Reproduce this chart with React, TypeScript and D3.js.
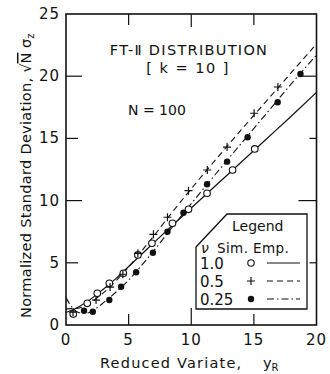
import { useEffect, useRef } from "react";
import * as d3 from "d3";

// simulated points
const simOne: [number, number][] = [
    [0.58, 0.88], [1.7, 1.74], [2.5, 2.55], [3.46, 3.35], [4.58, 4.16], [5.74, 5.63],
    [6.86, 6.57], [8.5, 8.18], [9.78, 9.3], [11.26, 10.59], [13.3, 12.46], [15.07, 14.15],
];
const simHalf: [number, number][] = [
    [0.56, 1.04], [2.4, 2.0], [3.52, 3.05], [4.54, 4.08], [5.74, 5.76], [6.98, 7.29],
    [8.1, 8.66], [9.78, 10.8], [11.28, 12.46], [12.86, 14.3], [15.02, 17.02], [16.92, 19.13],
];
const simQuarter: [number, number][] = [
    [1.44, 1.15], [2.14, 1.07], [3.46, 2.01], [4.4, 3.08], [5.6, 4.24], [6.94, 5.81],
    [8.1, 7.5], [9.38, 9.03], [11.26, 11.31], [12.86, 13.13], [14.5, 15.09], [16.9, 17.9],
    [18.72, 20.18],
];

// empirical curves
const empOne: [number, number][] = [
    [0, 1.0], [1, 1.45], [2, 2.1], [3, 2.9], [4, 3.75], [5, 4.7], [6, 5.65], [7, 6.6],
    [8, 7.55], [10, 9.4], [12, 11.25], [14, 13.1], [16, 14.95], [18, 16.8], [20, 18.7],
];
const empHalf: [number, number][] = [
    [0, 1.3], [1, 1.35], [2, 1.85], [3, 2.6], [4, 3.55], [5, 4.65], [6, 5.9], [7, 7.15],
    [8, 8.45], [10, 10.95], [12, 13.35], [14, 15.7], [16, 18.0], [18, 20.3], [20, 22.6],
];
const empQuarter: [number, number][] = [
    [0, 2.2], [0.5, 1.4], [1, 1.0], [1.5, 0.95], [2, 1.05], [2.5, 1.4], [3, 1.8], [4, 2.65],
    [5, 3.6], [6, 4.75], [7, 5.95], [8, 7.25], [10, 9.75], [12, 12.2], [14, 14.6],
    [16, 17.0], [18, 19.4], [20, 21.7],
];

const xTicks = [0, 5, 10, 15, 20];
const yTicks = [0, 5, 10, 15, 20, 25];
const legendRows = ["1.0", "0.5", "0.25"];

const FONT = "DejaVu Sans, sans-serif";
const DASH = "6,4";
const DASHDOT = "7,3,1.5,3";

const Chart = () => {
    const svgRef = useRef<SVGSVGElement>(null);
    const width = 330;
    const height = 374;

    useEffect(() => {
        if (!svgRef.current) return;
        const svg = d3.select(svgRef.current);
        svg.selectAll("*").remove();

        const x = d3.scaleLinear().domain([0, 20]).range([66, 316.5]);
        const y = d3.scaleLinear().domain([0, 25]).range([325, 14]);

        const plot = svg.append("g");

        const line = d3.line<[number, number]>()
            .x(d => x(d[0]))
            .y(d => y(d[1]))
            .curve(d3.curveMonotoneX);

        plot.append("path").datum(empOne)
            .attr("d", line).attr("fill", "none").attr("stroke", "#111").attr("stroke-width", 1.2);
        plot.append("path").datum(empHalf)
            .attr("d", line).attr("fill", "none").attr("stroke", "#111").attr("stroke-width", 1.1)
            .attr("stroke-dasharray", DASH);
        plot.append("path").datum(empQuarter)
            .attr("d", line).attr("fill", "none").attr("stroke", "#111").attr("stroke-width", 1.1)
            .attr("stroke-dasharray", DASHDOT);

        // markers
        plot.selectAll("circle.open").data(simOne).join("circle")
            .attr("class", "open")
            .attr("cx", d => x(d[0])).attr("cy", d => y(d[1])).attr("r", 3.3)
            .attr("fill", "white").attr("stroke", "#111").attr("stroke-width", 1.1);
        plot.selectAll("circle.fill").data(simQuarter).join("circle")
            .attr("class", "fill")
            .attr("cx", d => x(d[0])).attr("cy", d => y(d[1])).attr("r", 3.2)
            .attr("fill", "#111");
        plot.selectAll("path.plus").data(simHalf).join("path")
            .attr("class", "plus")
            .attr("d", d => {
                const px = x(d[0]), py = y(d[1]);
                return `M${px - 4},${py}H${px + 4}M${px},${py - 4}V${py + 4}`;
            })
            .attr("stroke", "#111").attr("stroke-width", 1.2);

        // frame
        const [x0, x1] = x.range();
        const [y0, y1] = y.range();
        svg.append("rect")
            .attr("x", x0).attr("y", y1).attr("width", x1 - x0).attr("height", y0 - y1)
            .attr("fill", "none").attr("stroke", "#111").attr("stroke-width", 1.6);

        // ticks: long at 10/20, short at 5/15
        const tickLen = (v: number, long: number, short: number) => (v % 10 === 0 ? long : short);
        xTicks.filter(v => v > 0 && v < 20).forEach(v => {
            svg.append("line").attr("x1", x(v)).attr("x2", x(v))
                .attr("y1", y0).attr("y2", y0 - tickLen(v, 17, 11))
                .attr("stroke", "#111").attr("stroke-width", 1.2);
            svg.append("line").attr("x1", x(v)).attr("x2", x(v))
                .attr("y1", y1).attr("y2", y1 + tickLen(v, 13, 11))
                .attr("stroke", "#111").attr("stroke-width", 1.2);
        });
        yTicks.filter(v => v > 0 && v < 25).forEach(v => {
            svg.append("line").attr("y1", y(v)).attr("y2", y(v))
                .attr("x1", x0).attr("x2", x0 + tickLen(v, 16, 12))
                .attr("stroke", "#111").attr("stroke-width", 1.2);
            svg.append("line").attr("y1", y(v)).attr("y2", y(v))
                .attr("x1", x1).attr("x2", x1 - tickLen(v, 18, 7))
                .attr("stroke", "#111").attr("stroke-width", 1.2);
        });

        // tick labels
        svg.append("g").selectAll("text").data(xTicks).join("text")
            .attr("x", d => x(d)).attr("y", 345)
            .attr("text-anchor", "middle")
            .attr("font-family", FONT).attr("font-size", 15).attr("fill", "#111")
            .attr("letter-spacing", 1)
            .text(d => d);
        svg.append("g").selectAll("text").data(yTicks).join("text")
            .attr("x", 60).attr("y", d => y(d) + 5)
            .attr("text-anchor", "end")
            .attr("font-family", FONT).attr("font-size", 15).attr("fill", "#111")
            .attr("letter-spacing", 1)
            .text(d => d);

        // axis titles
        const xt = svg.append("text")
            .attr("x", 100).attr("y", 368)
            .attr("font-family", FONT).attr("font-size", 14.5).attr("fill", "#111");
        xt.append("tspan").attr("letter-spacing", 1.2).text("Reduced Variate,");
        xt.append("tspan").attr("x", 263).text("y");
        xt.append("tspan").attr("font-size", 10).attr("dy", 3).text("R");

        const yt = svg.append("text")
            .attr("transform", "translate(31,318) rotate(-90)")
            .attr("font-family", FONT).attr("font-size", 14.5).attr("fill", "#111");
        yt.append("tspan").attr("letter-spacing", 0.3).text("Normalized Standard Deviation, ");
        yt.append("tspan").text("√");
        yt.append("tspan").attr("text-decoration", "overline").text("N");
        yt.append("tspan").text(" σ");
        yt.append("tspan").attr("font-size", 10).attr("dy", 3).text("z");

        // annotations
        svg.append("text").attr("x", 189).attr("y", 55).attr("text-anchor", "middle")
            .attr("font-family", FONT).attr("font-size", 14.5).attr("fill", "#111")
            .attr("letter-spacing", 1.3)
            .text("FT-Ⅱ DISTRIBUTION");
        svg.append("text").attr("x", 188).attr("y", 73).attr("text-anchor", "middle")
            .attr("font-family", FONT).attr("font-size", 14.5).attr("fill", "#111")
            .attr("letter-spacing", 1.5)
            .text("[ k = 10 ]");
        svg.append("text").attr("x", 128).attr("y", 115)
            .attr("font-family", FONT).attr("font-size", 14).attr("fill", "#111")
            .text("N = 100");

        // legend box with clipped corner
        const lg = svg.append("g");
        lg.append("path")
            .attr("d", "M196,247L227,214H307V309H196Z")
            .attr("fill", "white").attr("stroke", "#111").attr("stroke-width", 1.3);
        lg.append("text").attr("x", 232).attr("y", 231)
            .attr("font-family", FONT).attr("font-size", 14).attr("fill", "#111")
            .text("Legend");
        lg.append("text").attr("x", 201).attr("y", 253)
            .attr("font-family", FONT).attr("font-size", 14).attr("font-style", "italic").attr("fill", "#111")
            .text("ν");
        lg.append("text").attr("x", 217).attr("y", 253)
            .attr("font-family", FONT).attr("font-size", 13.5).attr("fill", "#111")
            .attr("letter-spacing", 0.4)
            .text("Sim. Emp.");

        const rowY = d3.scaleBand<string>().domain(legendRows).range([254, 308]);
        const dashes = [null, DASH, DASHDOT];
        legendRows.forEach((r, i) => {
            const cy = (rowY(r) ?? 0) + rowY.bandwidth() / 2;
            lg.append("text").attr("x", 200).attr("y", cy + 5.5)
                .attr("font-family", FONT).attr("font-size", 15).attr("fill", "#111")
                .text(r);
            if (i === 0) {
                lg.append("circle").attr("cx", 251).attr("cy", cy).attr("r", 3.2)
                    .attr("fill", "white").attr("stroke", "#111").attr("stroke-width", 1.1);
            } else if (i === 1) {
                lg.append("path").attr("d", `M247,${cy}H255M251,${cy - 4}V${cy + 4}`)
                    .attr("stroke", "#111").attr("stroke-width", 1.2);
            } else {
                lg.append("circle").attr("cx", 251).attr("cy", cy).attr("r", 3.2).attr("fill", "#111");
            }
            const ln = lg.append("line").attr("x1", 267).attr("x2", 300).attr("y1", cy).attr("y2", cy)
                .attr("stroke", "#111").attr("stroke-width", 1.1);
            if (dashes[i]) ln.attr("stroke-dasharray", dashes[i] as string);
        });
    }, []);

    return (
        <svg
            ref={svgRef}
            width={width}
            height={height}
            viewBox={`0 0 ${width} ${height}`}
            style={{ position: "absolute", left: 0, top: 0, background: "white" }}
        />
    );
};

export default function App() {
    return <Chart />;
}
